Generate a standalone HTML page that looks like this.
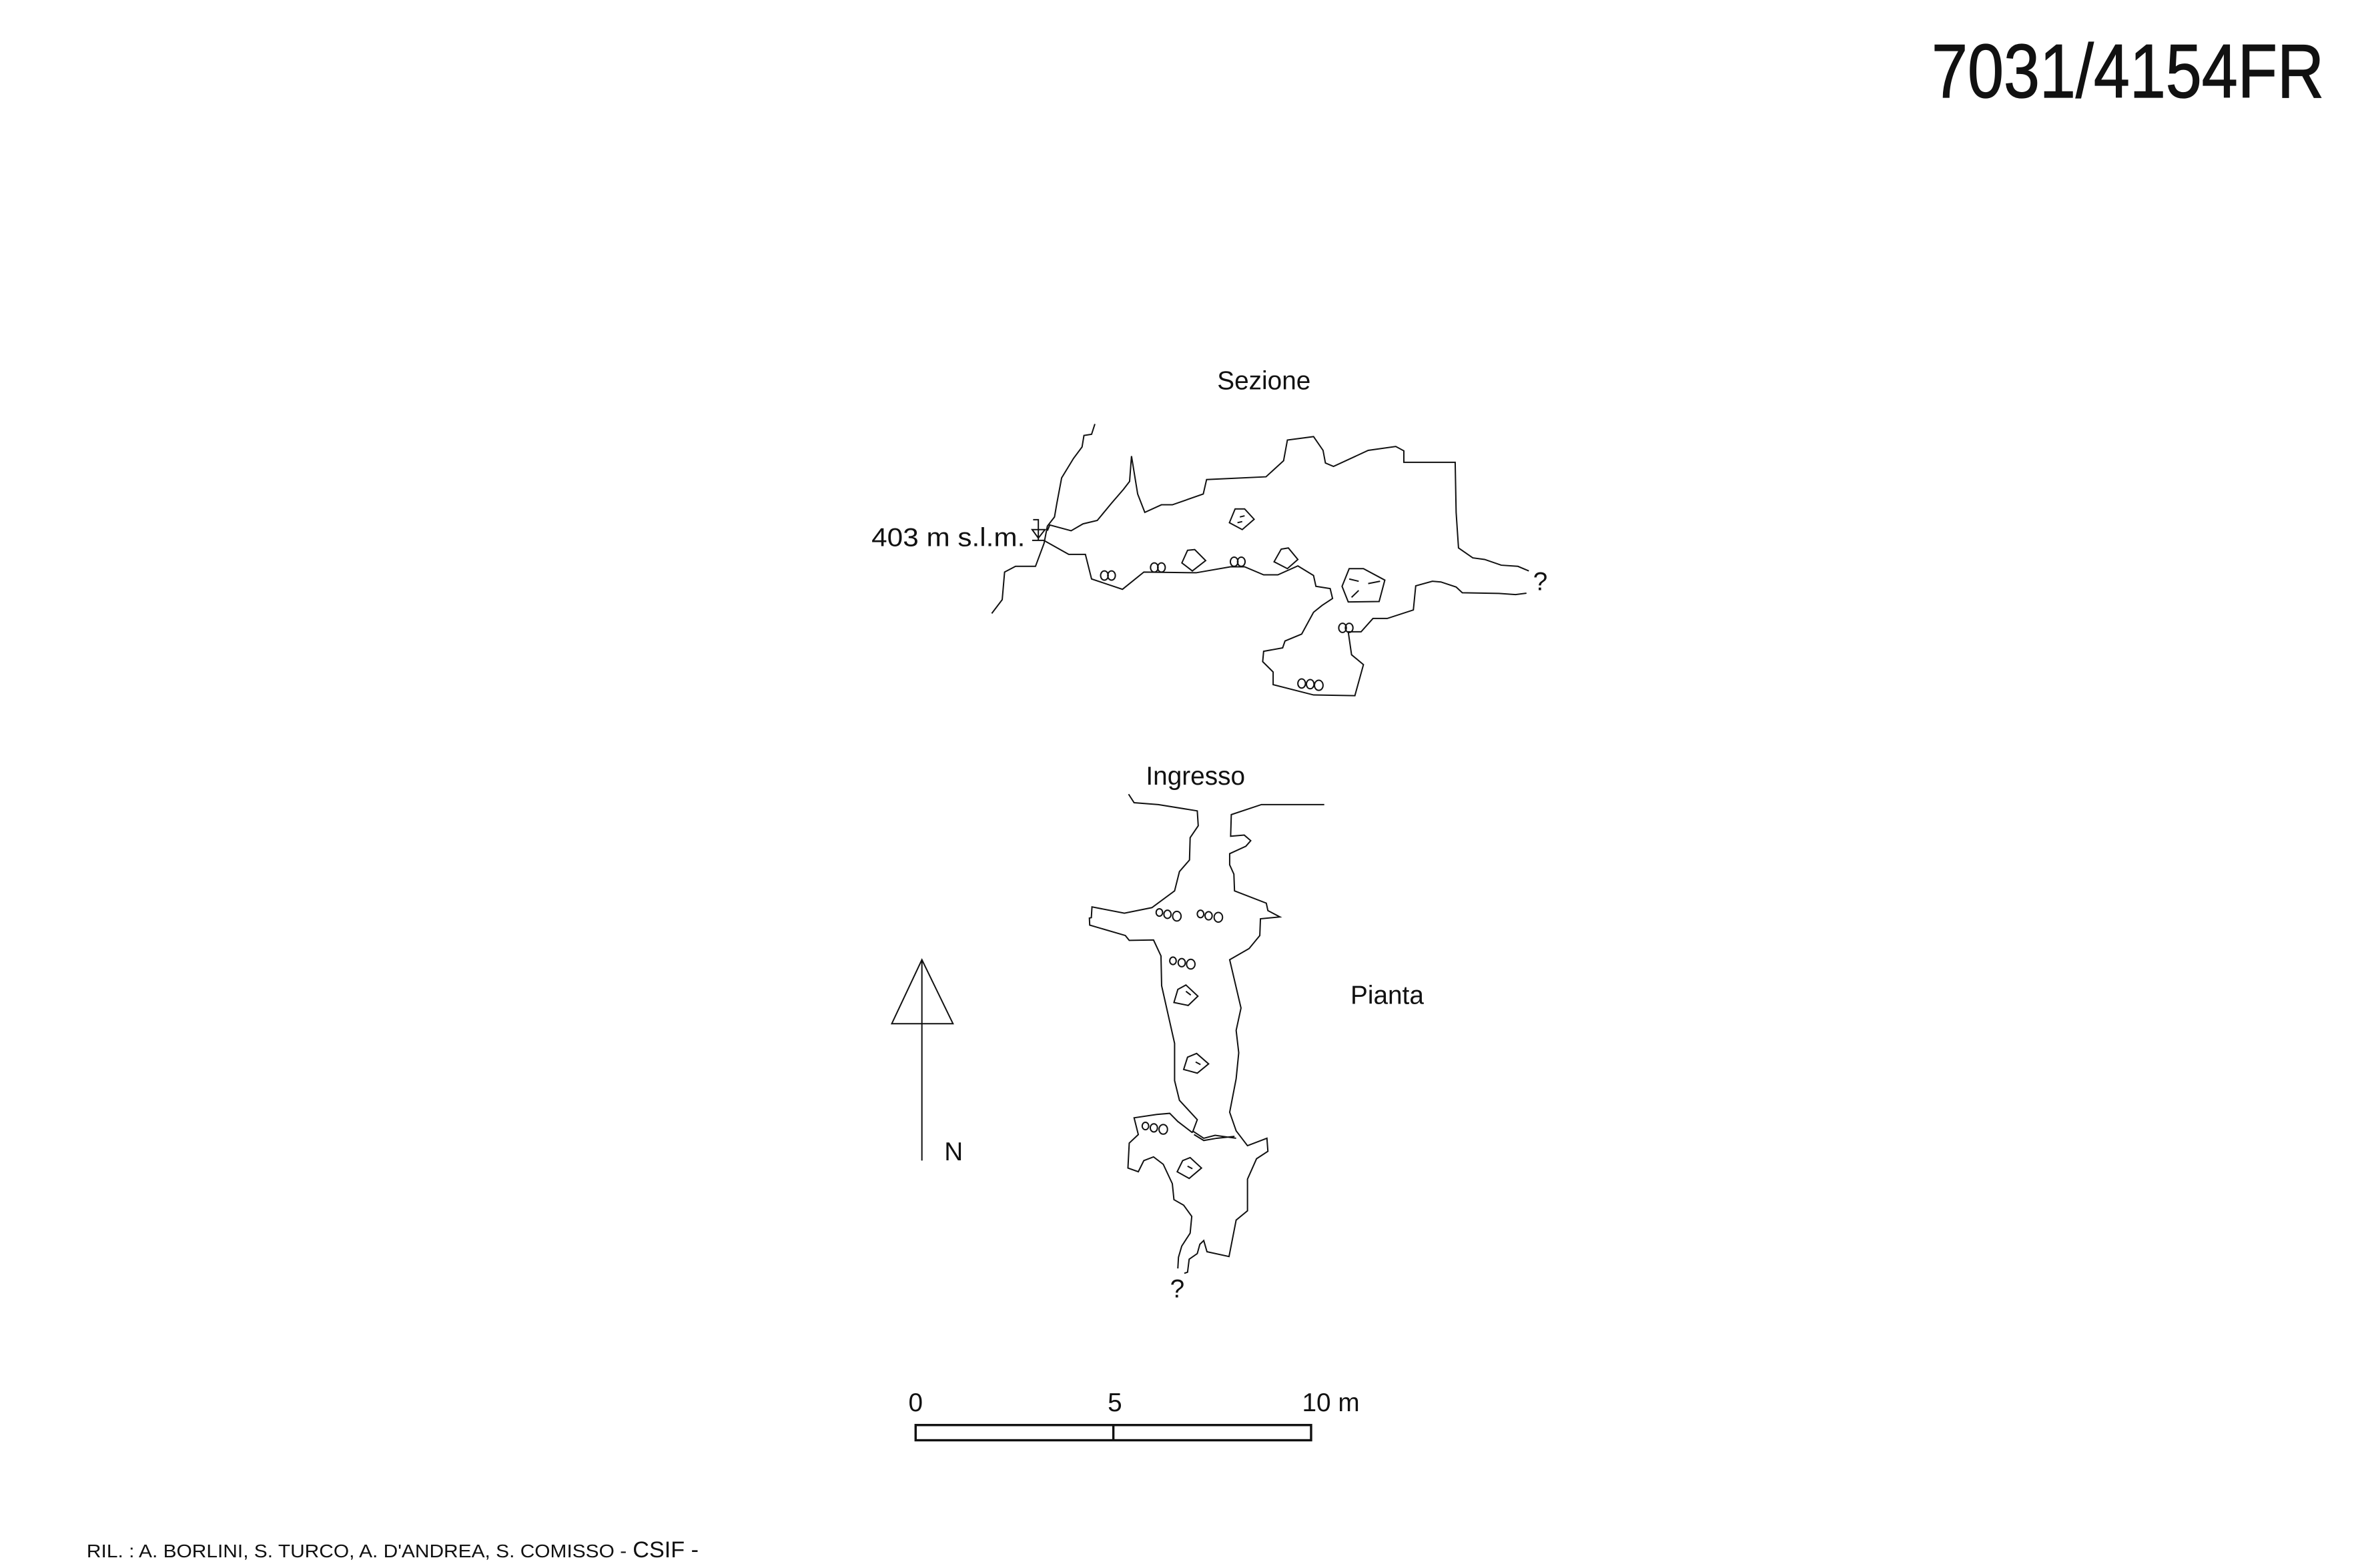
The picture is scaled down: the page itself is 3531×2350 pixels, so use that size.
<!DOCTYPE html>
<html><head><meta charset="utf-8"><style>
html,body{margin:0;padding:0;background:#fff;}
svg{display:block;}
text{font-family:"Liberation Sans",sans-serif;fill:#111;}
</style></head><body>
<svg width="3531" height="2350" viewBox="0 0 1549 1031" preserveAspectRatio="none" xmlns="http://www.w3.org/2000/svg">
<rect width="1549" height="1031" fill="#fff"/>
<text x="1270" y="64" font-size="50" textLength="258" lengthAdjust="spacingAndGlyphs" stroke="#111" stroke-width="0.6">7031/4154FR</text>
<text x="831" y="256" font-size="17" text-anchor="middle">Sezione</text>
<text x="573" y="359" font-size="17" textLength="101" lengthAdjust="spacingAndGlyphs">403 m s.l.m.</text>
<text x="1008" y="388" font-size="17">?</text>
<text x="786" y="516" font-size="17" text-anchor="middle">Ingresso</text>
<text x="912" y="660" font-size="17" text-anchor="middle">Pianta</text>
<text x="627" y="763" font-size="17" text-anchor="middle">N</text>
<text x="774" y="853" font-size="17" text-anchor="middle">?</text>
<text x="602" y="928" font-size="17" text-anchor="middle">0</text>
<text x="733" y="928" font-size="17" text-anchor="middle">5</text>
<text x="875" y="928" font-size="17" text-anchor="middle">10 m</text>
<rect x="602" y="937" width="260" height="10" fill="none" stroke="#111" stroke-width="1.5"/>
<line x1="732" y1="937" x2="732" y2="947" stroke="#111" stroke-width="1.5"/>
<text x="57" y="1024" font-size="12" textLength="355" lengthAdjust="spacingAndGlyphs">RIL. : A. BORLINI, S. TURCO, A. D'ANDREA, S. COMISSO -</text>
<text x="416" y="1024" font-size="15">CSIF -</text>

<g transform="translate(568.3,261.4) scale(0.3125,0.151)" fill="none" stroke="#111" stroke-width="2">
<path vector-effect="non-scaling-stroke" d="M485,115 L478,160 L462,165 L458,215 L440,265 L415,350 L405,460 L400,520 L385,560 L378,635 L360,735 L318,735 L295,760 L290,880 L268,940"/>
<path vector-effect="non-scaling-stroke" d="M385,580 L390,555 L435,580 L460,550 L490,535 L520,460 L545,400 L558,365 L562,255 L575,420 L590,500 L625,467 L648,467 L713,420 L720,357 L845,345 L882,275 L890,185 L945,170 L965,230 L970,285 L987,300 L1060,230 L1118,213 L1135,232 L1135,282 L1243,282 L1245,500 L1250,655 L1280,698 L1305,705 L1340,730 L1375,735 L1398,755"/>
<path vector-effect="non-scaling-stroke" d="M380,625 L430,683 L465,683 L478,790 L543,835 L588,760 L698,763 L770,737 L800,737 L840,772 L870,772 L912,733 L945,775 L950,822 L980,832 L985,875 L963,905 L945,935 L920,1030 L885,1060 L880,1090 L840,1105 L838,1150 L860,1195 L860,1250 L945,1295 L1032,1298 L1050,1163 L1025,1120 L1018,1020 L1045,1020 L1070,962 L1100,962 L1155,925 L1160,820 L1195,800 L1213,803 L1245,825 L1258,850 L1335,853 L1370,858 L1393,852"/>
<path vector-effect="non-scaling-stroke" d="M780,485 L800,485 L820,530 L795,575 L768,545 Z M790,520 L800,515 M785,545 L795,540"/>
<path vector-effect="non-scaling-stroke" d="M1020,745 L1050,745 L1095,795 L1083,888 L1018,890 L1005,822 Z M1040,800 L1020,790 M1060,810 L1085,800 M1040,840 L1025,870"/>
<path vector-effect="non-scaling-stroke" d="M680,665 L695,662 L718,710 L690,755 L668,720 Z"/>
<path vector-effect="non-scaling-stroke" d="M877,660 L892,655 L912,705 L890,745 L862,715 Z"/>
<path vector-effect="non-scaling-stroke" d="M355,532 L366,532 L366,622 M353,575 L380,575 L366,612 Z M353,622 L380,622"/>
<ellipse vector-effect="non-scaling-stroke" cx="505" cy="775" rx="8" ry="20"/><ellipse vector-effect="non-scaling-stroke" cx="520" cy="775" rx="8" ry="20"/>
<ellipse vector-effect="non-scaling-stroke" cx="610" cy="740" rx="8" ry="20"/><ellipse vector-effect="non-scaling-stroke" cx="625" cy="740" rx="8" ry="20"/>
<ellipse vector-effect="non-scaling-stroke" cx="778" cy="715" rx="8" ry="20"/><ellipse vector-effect="non-scaling-stroke" cx="793" cy="715" rx="8" ry="20"/>
<ellipse vector-effect="non-scaling-stroke" cx="1006" cy="1003" rx="8" ry="20"/><ellipse vector-effect="non-scaling-stroke" cx="1020" cy="1003" rx="8" ry="20"/>
<ellipse vector-effect="non-scaling-stroke" cx="920" cy="1245" rx="8" ry="20"/><ellipse vector-effect="non-scaling-stroke" cx="938" cy="1248" rx="8" ry="20"/><ellipse vector-effect="non-scaling-stroke" cx="956" cy="1253" rx="9" ry="22"/>
</g>

<g transform="translate(576.3,496.5) scale(0.213,0.2446)" fill="none" stroke="#111" stroke-width="2">
<path vector-effect="non-scaling-stroke" d="M778,105 L795,128 L870,133 L990,150 L993,190 L968,222 L966,282 L935,313 L920,365 L850,410 L765,425 L665,408 L663,437 L657,438 L658,457 L768,485 L780,498 L855,497 L878,540 L880,620 L920,775 L920,875 L935,928 L990,980 L975,1015"/>
<path vector-effect="non-scaling-stroke" d="M1382,133 L1188,133 L1095,160 L1093,218 L1135,215 L1155,230 L1140,245 L1090,265 L1090,295 L1103,320 L1105,365 L1203,398 L1208,418 L1245,435 L1185,440 L1183,485 L1150,520 L1090,550 L1125,680 L1110,740 L1118,800 L1110,870 L1090,960 L1110,1010 L1145,1050 L1205,1030 L1208,1065 L1173,1085 L1145,1140 L1145,1225 L1110,1250 L1088,1348 L1020,1335 L1010,1305 L998,1315 L990,1340 L965,1355 L960,1390 L950,1393"/>
<path vector-effect="non-scaling-stroke" d="M975,1015 L930,985 L905,963 L865,966 L795,975 L808,1020 L780,1043 L776,1110 L808,1120 L825,1090 L855,1080 L885,1100 L913,1152 L918,1195 L948,1210 L973,1240 L968,1285 L942,1320 L932,1350 L930,1380"/>
<path vector-effect="non-scaling-stroke" d="M975,1010 L1010,1030 L1045,1022 L1110,1030 M980,1020 L1010,1036 L1050,1030 L1105,1025"/>
<path vector-effect="non-scaling-stroke" d="M930,630 L955,618 L992,648 L962,673 L918,665 Z M955,635 L970,645"/>
<path vector-effect="non-scaling-stroke" d="M960,812 L988,802 L1025,830 L990,855 L948,845 Z M985,825 L1000,832"/>
<path vector-effect="non-scaling-stroke" d="M945,1090 L968,1082 L1003,1110 L965,1138 L928,1120 Z M960,1105 L975,1112"/>
<path vector-effect="non-scaling-stroke" d="M140,550 L140,1090 M140,550 L47,722 L236,722 Z"/>
<circle cx="873" cy="423" r="10" vector-effect="non-scaling-stroke"/><circle cx="898" cy="428" r="11" vector-effect="non-scaling-stroke"/><circle cx="927" cy="433" r="13" vector-effect="non-scaling-stroke"/>
<circle cx="1000" cy="427" r="10" vector-effect="non-scaling-stroke"/><circle cx="1025" cy="432" r="11" vector-effect="non-scaling-stroke"/><circle cx="1055" cy="436" r="13" vector-effect="non-scaling-stroke"/>
<circle cx="915" cy="553" r="10" vector-effect="non-scaling-stroke"/><circle cx="942" cy="558" r="11" vector-effect="non-scaling-stroke"/><circle cx="970" cy="562" r="13" vector-effect="non-scaling-stroke"/>
<circle cx="830" cy="997" r="10" vector-effect="non-scaling-stroke"/><circle cx="856" cy="1002" r="11" vector-effect="non-scaling-stroke"/><circle cx="885" cy="1006" r="13" vector-effect="non-scaling-stroke"/>
</g>
</svg>
</body></html>
